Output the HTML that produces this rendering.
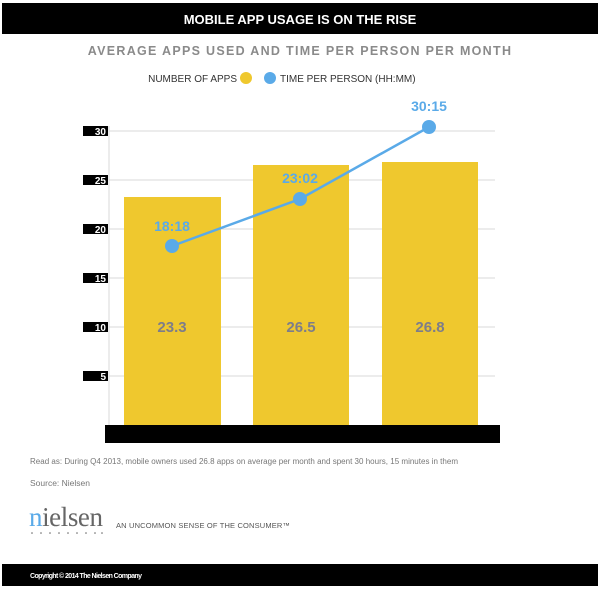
<!DOCTYPE html>
<html><head><style>
body{margin:0;background:#fff;width:600px;height:588px;overflow:hidden;font-family:"Liberation Sans",sans-serif}
</style></head><body>
<svg width="600" height="588" xmlns="http://www.w3.org/2000/svg" font-family="Liberation Sans, sans-serif">
<rect x="2" y="3" width="596" height="31" fill="#000"/>
<text x="300" y="24" fill="#fff" font-size="13" font-weight="bold" text-anchor="middle">MOBILE APP USAGE IS ON THE RISE</text>
<text x="300" y="55" fill="#8a8a8a" font-size="12.5" font-weight="bold" text-anchor="middle" letter-spacing="1.3">AVERAGE APPS USED AND TIME PER PERSON PER MONTH</text>
<text x="237" y="82" fill="#333" font-size="10" text-anchor="end">NUMBER OF APPS</text>
<circle cx="246" cy="78" r="6" fill="#efc82e"/>
<circle cx="270" cy="78" r="6" fill="#5aaae8"/>
<text x="280" y="82" fill="#333" font-size="10">TIME PER PERSON  (HH:MM)</text>
<g stroke="#d8d8d8" stroke-width="1">
<line x1="109" y1="131" x2="495" y2="131"/><line x1="109" y1="180" x2="495" y2="180"/>
<line x1="109" y1="229" x2="495" y2="229"/><line x1="109" y1="278" x2="495" y2="278"/>
<line x1="109" y1="327" x2="495" y2="327"/><line x1="109" y1="376" x2="495" y2="376"/>
<line x1="109" y1="126" x2="109" y2="425"/>
</g>
<g font-size="10" fill="#fff" font-weight="bold" text-anchor="end">
<rect x="83" y="126" width="25" height="10" fill="#000"/><text x="106" y="135">30</text>
<rect x="83" y="175" width="25" height="10" fill="#000"/><text x="106" y="184">25</text>
<rect x="83" y="224" width="25" height="10" fill="#000"/><text x="106" y="233">20</text>
<rect x="83" y="273" width="25" height="10" fill="#000"/><text x="106" y="282">15</text>
<rect x="83" y="322" width="25" height="10" fill="#000"/><text x="106" y="331">10</text>
<rect x="83" y="371" width="25" height="10" fill="#000"/><text x="106" y="380">5</text>
</g>
<rect x="124" y="197" width="97" height="228" fill="#efc82e"/>
<rect x="253" y="165" width="96" height="260" fill="#efc82e"/>
<rect x="382" y="162" width="96" height="263" fill="#efc82e"/>
<rect x="105" y="425" width="395" height="18" fill="#000"/>
<g font-size="15" font-weight="bold" fill="#7d7d8a" text-anchor="middle">
<text x="172" y="332">23.3</text><text x="301" y="332">26.5</text><text x="430" y="332">26.8</text>
</g>
<polyline points="172,246 300,199 429,127" fill="none" stroke="#5aaae8" stroke-width="2.5"/>
<circle cx="172" cy="246" r="7" fill="#5aaae8"/>
<circle cx="300" cy="199" r="7" fill="#5aaae8"/>
<circle cx="429" cy="127" r="7" fill="#5aaae8"/>
<g font-size="14" font-weight="bold" fill="#5aaae8" text-anchor="middle">
<text x="172" y="231">18:18</text><text x="300" y="183">23:02</text><text x="429" y="111">30:15</text>
</g>
<text x="30" y="464" fill="#777" font-size="8" textLength="428">Read as: During Q4 2013, mobile owners used 26.8 apps on average per month and spent 30 hours, 15 minutes in them</text>
<text x="30" y="486" fill="#777" font-size="8.5">Source: Nielsen</text>
<text x="29" y="526" font-family="Liberation Serif, serif" font-size="27" fill="#666" textLength="74"><tspan fill="#5aaae8">n</tspan>ielsen</text>
<g fill="#666"><circle cx="32" cy="533" r="0.8"/><circle cx="41" cy="533" r="0.8"/><circle cx="50" cy="533" r="0.8"/><circle cx="59" cy="533" r="0.8"/><circle cx="68" cy="533" r="0.8"/><circle cx="77" cy="533" r="0.8"/><circle cx="86" cy="533" r="0.8"/><circle cx="95" cy="533" r="0.8"/><circle cx="102" cy="533" r="0.8"/></g>
<text x="116" y="528" fill="#555" font-size="7.5" textLength="174">AN UNCOMMON SENSE OF THE CONSUMER™</text>
<rect x="2" y="564" width="596" height="22" fill="#000"/>
<text x="30" y="578" fill="#fff" font-size="7" font-weight="bold" textLength="112">Copyright © 2014 The Nielsen Company</text>
</svg>
</body></html>
